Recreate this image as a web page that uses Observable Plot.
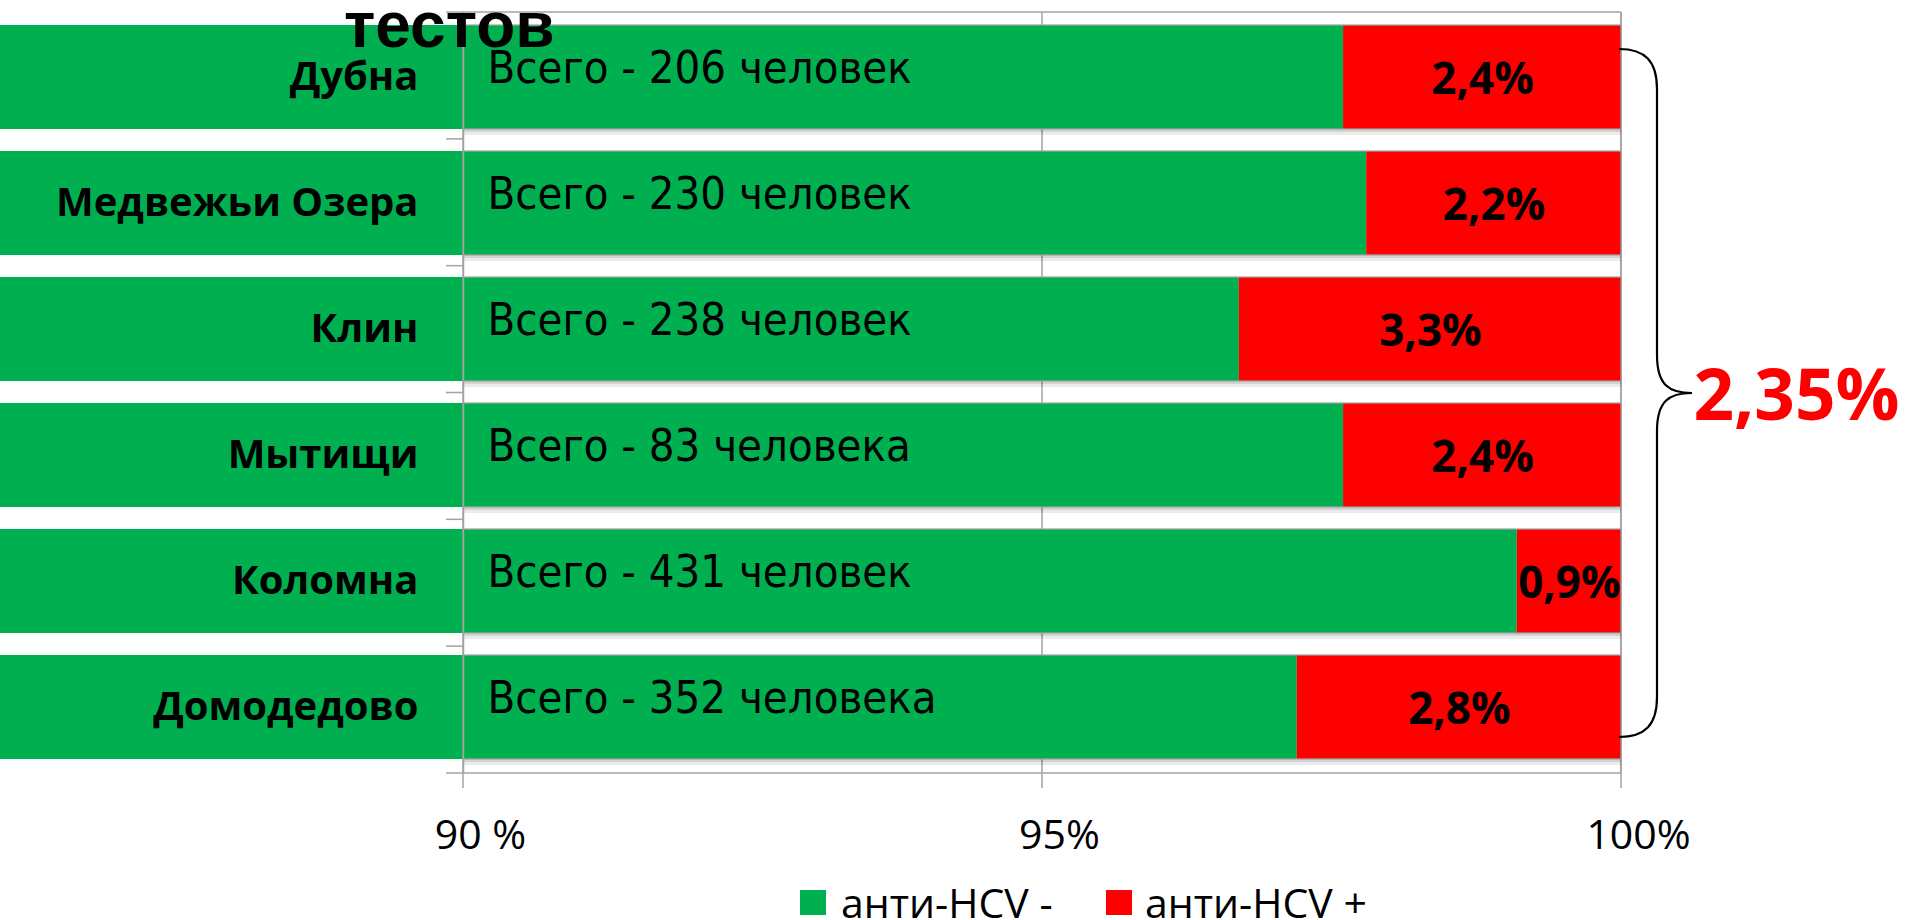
<!DOCTYPE html>
<html>
<head>
<meta charset="utf-8">
<script src="https://cdn.jsdelivr.net/npm/d3@7"></script>
<script src="https://cdn.jsdelivr.net/npm/@observablehq/plot@0.6"></script>
<style>
  html, body { margin: 0; padding: 0; background: #fff; }
  #wrap { position: relative; width: 1907px; height: 920px; overflow: hidden; }
  #title { position: absolute; left: 344px; top: 0px; font: 700 64px/50px "Liberation Sans", Arial, sans-serif; color: #000; white-space: nowrap; }
  #legend { position: relative; height: 48px; font-family: "Open Sans", sans-serif; font-size: 41px; line-height: 36px; color: #000; }
  #legend .sw { position: absolute; top: 18px; width: 26px; height: 25px; }
  #legend .lb { position: absolute; top: 12px; white-space: nowrap; }
</style>
</head>
<body>
<div id="wrap">
  <div id="chart"></div>
  <div id="legend"></div>
  <div id="title">тестов</div>
</div>
<script>
const cities = ["Дубна", "Медвежьи Озера", "Клин", "Мытищи", "Коломна", "Домодедово"];
const totals = [206, 230, 238, 83, 431, 352];
const positiveShares = [2.4, 2.2, 3.3, 2.4, 0.9, 2.8];
const xTicks = [90, 95, 100];
const xTickLabels = ["90 %", "95%", "100%"];
const seriesNames = ["анти-HCV -", "анти-HCV +"];
const seriesColors = ["#00B050", "#FF0000"];
const overallPositive = 2.35;

const word = n => { const a = n % 10, b = n % 100; return (a >= 2 && a <= 4 && !(b >= 12 && b <= 14)) ? "человека" : "человек"; };
const comma = v => String(v).replace(".", ",");

const data = cities.map((city, i) => ({
  city, total: totals[i], pos: positiveShares[i], neg: 100 - positiveShares[i]
}));

const gray = "#a3a3a3";

function boxMark(index, scales, values, dimensions) {
  const {x} = scales;
  const ns = "http://www.w3.org/2000/svg";
  const g = document.createElementNS(ns, "g");
  const x0 = x(xTicks[0]), x1 = x(xTicks[xTicks.length - 1]);
  const top = dimensions.marginTop, bottom = dimensions.height - dimensions.marginBottom;
  const line = (xa, ya, xb, yb) => {
    const l = document.createElementNS(ns, "line");
    l.setAttribute("x1", xa); l.setAttribute("y1", ya);
    l.setAttribute("x2", xb); l.setAttribute("y2", yb);
    l.setAttribute("stroke", gray); l.setAttribute("stroke-width", 1.5);
    g.appendChild(l);
  };
  line(x0, top, x1, top);
  line(x1, top, x1, bottom);
  line(x0, bottom, x1, bottom);
  for (const t of xTicks) line(x(t), top, x(t), bottom + 15);
  const n = cities.length, step = (bottom - top) / n;
  for (let i = 0; i <= n; i++) line(x0 - 17, top + i * step, x0, top + i * step);
  return g;
}

function braceMark(index, scales, values, dimensions) {
  const {x, y} = scales;
  const ns = "http://www.w3.org/2000/svg";
  const bw = y.bandwidth ? y.bandwidth() : 105;
  const xr = x(100);
  const yTop = y(cities[0]) + 24;
  const yBot = y(cities[cities.length - 1]) + bw - 22;
  const mid = (yTop + yBot) / 2;
  const v = xr + 36, tip = xr + 71;
  const d = `M${xr - 2},${yTop} C${xr + 24},${yTop} ${v},${yTop + 12} ${v},${yTop + 40}
    L${v},${mid - 38} C${v},${mid - 8} ${v + 12},${mid} ${tip},${mid}
    C${v + 12},${mid} ${v},${mid + 8} ${v},${mid + 38}
    L${v},${yBot - 40} C${v},${yBot - 12} ${xr + 24},${yBot} ${xr - 2},${yBot}`;
  const p = document.createElementNS(ns, "path");
  p.setAttribute("d", d);
  p.setAttribute("fill", "none");
  p.setAttribute("stroke", "#000");
  p.setAttribute("stroke-width", 2.2);
  return p;
}

const chart = Plot.plot({
  width: 1907,
  height: 872,
  marginLeft: 0,
  marginRight: 0,
  marginTop: 12,
  marginBottom: 99,
  style: {fontFamily: "'Open Sans', sans-serif", background: "#fff"},
  x: {domain: [90, 100], range: [463, 1621], label: null, axis: null},
  y: {domain: cities, range: [12, 773], paddingInner: 0.172, paddingOuter: 0.086, axis: null},
  marks: [
    boxMark,
    Plot.barX(data, {x1: 90, x2: 100, y: "city", fill: "#000", fillOpacity: 0.10, dy: 3}),
    Plot.barX(data, {x1: 90, x2: 100, y: "city", fill: "#000", fillOpacity: 0.08, dy: 6}),
    Plot.barX(data, {x1: 0, x2: "neg", y: "city", fill: seriesColors[0], clip: true}),
    Plot.barX(data, {x1: "neg", x2: 100, y: "city", fill: seriesColors[1], clip: true}),
    Plot.barX(data, {x1: 90, x2: 100, y: "city", fill: "none", stroke: gray, strokeWidth: 1.2}),
    Plot.ruleX([90], {stroke: gray, strokeWidth: 1.5}),
    Plot.text(data, {x: 90, y: "city", text: "city", textAnchor: "end", dx: -45, fontSize: 40, fontWeight: 700, fill: "#000"}),
    Plot.text(data, {x: 90, y: "city", text: d => `Всего - ${d.total} ${word(d.total)}`, textAnchor: "start", dx: 24, dy: -9, fontSize: 45, fontFamily: "'Liberation Sans Narrow', 'DejaVu Sans Condensed', 'Liberation Sans', sans-serif", fill: "#000"}),
    Plot.text(data, {x: d => 100 - d.pos / 2, y: "city", text: d => d3.format(".1f")(d.pos).replace(".", ",") + "%", fontSize: 44, fontWeight: 700, dy: 2, fill: "#000"}),
    braceMark,
    Plot.text([overallPositive], {x: () => 100, text: d => comma(d) + "%", textAnchor: "start", dx: 72, dy: 4, fontSize: 71, fontWeight: 700, fill: seriesColors[1]}),
    Plot.axisX({ticks: xTicks, tickSize: 0, tickPadding: 46, tickFormat: d => xTickLabels[xTicks.indexOf(d)], fontSize: 41, dx: 17, fill: "#000"})
  ]
});
document.getElementById("chart").appendChild(chart);

const legend = document.getElementById("legend");
const swX = [800, 1106], lbX = [841, 1145];
seriesNames.forEach((name, i) => {
  const s = document.createElement("div");
  s.className = "sw"; s.style.left = swX[i] + "px"; s.style.background = seriesColors[i];
  legend.appendChild(s);
  const t = document.createElement("div");
  t.className = "lb"; t.style.left = lbX[i] + "px"; t.textContent = name;
  legend.appendChild(t);
});
</script>
</body>
</html>
